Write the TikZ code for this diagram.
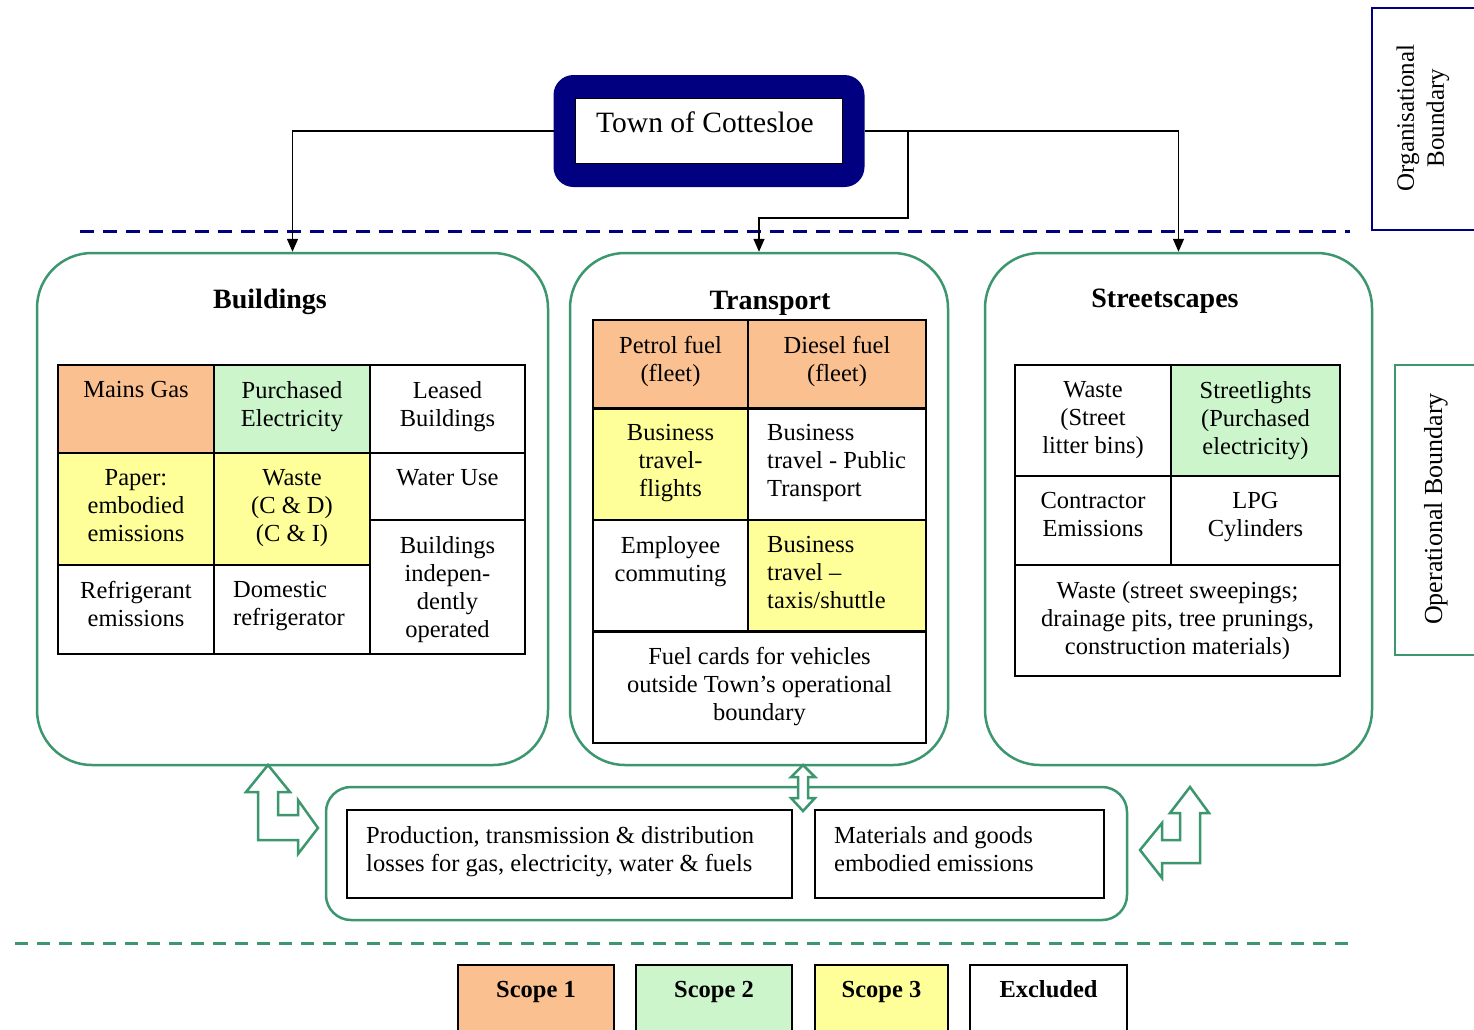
\documentclass[tikz,border=0pt]{standalone}
\usepackage{fontspec}
\setmainfont{Liberation Serif}
\usetikzlibrary{arrows.meta}
\definecolor{navyb}{RGB}{0,0,128}
\definecolor{grn}{RGB}{60,150,110}
\definecolor{sone}{RGB}{250,192,144}
\definecolor{stwo}{RGB}{204,245,204}
\definecolor{sthree}{RGB}{255,255,153}
\newcommand\cel[6]{\node[cell,fill=#6,minimum width={#4-#2},minimum height={#5-#3},anchor=north west] (#1) at (#2,#3) {};}
\newcommand\ctext[2]{\node[txt,align=center,anchor=north] (#1t) at ([yshift=-16pt]#1.north) {#2};}
\newcommand\ltext[2]{\node[txt,align=left,anchor=north west] (#1t) at ([xshift=19pt,yshift=-16pt]#1.north west) {#2};}
\begin{document}
\begin{tikzpicture}[x=1pt,y=-1pt,
  cell/.style={draw=black,line width=1.5pt,inner sep=0pt,outer sep=0pt},
  txt/.style={font=\fontsize{24.5}{28}\selectfont,inner sep=0pt},
  ttl/.style={font=\fontsize{28}{32}\selectfont\bfseries,inner sep=0pt,anchor=base},
  rbox/.style={draw=grn,line width=2.5pt,rounded corners=55pt,inner sep=0pt},
  conn/.style={draw=black,line width=1.5pt,-{Triangle[length=13pt,width=11pt]}},
  harrow/.style={draw=grn,line width=2.5pt,fill=white,line join=miter},
  lgbox/.style={draw=black,line width=1.5pt,inner sep=0pt,outer sep=0pt,anchor=north west,minimum height=100},
  lgtxt/.style={font=\fontsize{24.5}{28}\selectfont\bfseries,inner sep=0pt,anchor=base}]
\useasboundingbox (0,0) rectangle (1474,1029);
\fill[white] (0,0) rectangle (1474,1029);

% Town of Cottesloe
\node[fill=navyb,rounded corners=20pt,minimum width=311,minimum height=112,inner sep=0pt,outer sep=0pt] (town) at (709,131) {};
\node[draw=black,fill=white,line width=1pt,minimum width=267,minimum height=65,inner sep=0pt] (townin) at (708.5,130.5) {};
\node[font=\fontsize{29.5}{34}\selectfont,anchor=base,inner sep=0pt] (townt) at (705,132) {Town of Cottesloe};

% dashed lines
\coordinate (nd1) at (80,231);
\coordinate (nd2) at (1350,231);
\draw[navyb,line width=3pt,dash pattern=on 14pt off 9pt] (nd1) -- (nd2);
\coordinate (gd1) at (15,943);
\coordinate (gd2) at (1350,943);
\draw[grn,line width=3pt,dash pattern=on 13pt off 9pt] (gd1) -- (gd2);

% boundary labels
\draw[navyb,line width=2.5pt] (1480,8) -- (1372,8) -- (1372,230) -- (1480,230);
\node[rotate=90,font=\fontsize{25}{30}\selectfont,align=center,inner sep=0pt] (orgt) at (1423,118) {Organisational\\Boundary};
\draw[grn,line width=2.5pt] (1480,365) -- (1395,365) -- (1395,655) -- (1480,655);
\node[rotate=90,font=\fontsize{26}{30}\selectfont,inner sep=0pt] (opt) at (1436,509) {Operational Boundary};

% main rounded boxes
\node[rbox,minimum width=511,minimum height=512] (bld) at (292.5,509) {};
\node[rbox,minimum width=378,minimum height=512] (trn) at (759,509) {};
\node[rbox,minimum width=387,minimum height=512] (str) at (1178.5,509) {};
\node[ttl] (bldt) at (270,308) {Buildings};
\node[ttl] (trnt) at (770,309) {Transport};
\node[ttl] (strt) at (1165,307) {Streetscapes};

% connectors
\coordinate (j1) at (908,131);
\coordinate (j2) at (908,218);
\draw[conn] (town.west) -| (bld.north);
\draw[conn] (town.east) -| (str.north);
\draw[conn] (j1) -- (j2) -| (trn.north);

% Buildings table
\cel{b11}{58}{365}{214}{453}{sone}
\cel{b12}{214}{365}{370}{453}{stwo}
\cel{b13}{370}{365}{525}{453}{white}
\cel{b21}{58}{453}{214}{565}{sthree}
\cel{b22}{214}{453}{370}{565}{sthree}
\cel{b23}{370}{453}{525}{520}{white}
\cel{b31}{58}{565}{214}{654}{white}
\cel{b32}{214}{565}{370}{654}{white}
\cel{b33}{370}{520}{525}{654}{white}
\ctext{b11}{Mains Gas}
\ctext{b12}{Purchased\\Electricity}
\ctext{b13}{Leased\\Buildings}
\ctext{b21}{Paper:\\embodied\\emissions}
\ctext{b22}{Waste\\(C \& D)\\(C \& I)}
\ctext{b23}{Water Use}
\ctext{b31}{Refrigerant\\emissions}
\ltext{b32}{Domestic\\refrigerator}
\ctext{b33}{Buildings\\indepen-\\dently\\operated}

% Transport table
\cel{t11}{593}{320}{748}{408}{sone}
\cel{t12}{748}{320}{926}{408}{sone}
\cel{t21}{593}{408}{748}{520}{sthree}
\cel{t22}{748}{408}{926}{520}{white}
\cel{t31}{593}{520}{748}{631}{white}
\cel{t32}{748}{520}{926}{631}{sthree}
\cel{t41}{593}{631}{926}{743}{white}
\draw[line width=3pt] (t21.north west) -- (t22.north east);
\draw[line width=3pt] (t41.north west) -- (t41.north east);
\ctext{t11}{Petrol fuel\\(fleet)}
\ctext{t12}{Diesel fuel\\(fleet)}
\ctext{t21}{Business\\travel-\\flights}
\ltext{t22}{Business\\travel - Public\\Transport}
\ctext{t31}{Employee\\commuting}
\ltext{t32}{Business\\travel --\\taxis/shuttle}
\ctext{t41}{Fuel cards for vehicles\\outside Town’s operational\\boundary}

% Streetscapes table
\cel{s11}{1015}{365}{1171}{476}{white}
\cel{s12}{1171}{365}{1340}{476}{stwo}
\cel{s21}{1015}{476}{1171}{565}{white}
\cel{s22}{1171}{476}{1340}{565}{white}
\cel{s31}{1015}{565}{1340}{676}{white}
\ctext{s11}{Waste\\(Street\\litter bins)}
\ctext{s12}{Streetlights\\(Purchased\\electricity)}
\ctext{s21}{Contractor\\Emissions}
\ctext{s22}{LPG\\Cylinders}
\ctext{s31}{Waste (street sweepings;\\drainage pits, tree prunings,\\construction materials)}

% bottom group
\node[draw=grn,line width=2.5pt,rounded corners=25pt,minimum width=801,minimum height=133,inner sep=0pt] (up) at (726.5,853.5) {};
\node[cell,minimum width=445,minimum height=88] (prod) at (569.5,854) {};
\node[cell,minimum width=289,minimum height=88] (mat) at (959.5,854) {};
\ltext{prod}{Production, transmission \& distribution\\losses for gas, electricity, water \& fuels}
\ltext{mat}{Materials and goods\\embodied emissions}

% hollow arrows
\draw[harrow] (268,765) -- (290,792) -- (278,792) -- (278,815) -- (298,815) -- (298,800) -- (318,828) -- (298,854) -- (298,840) -- (258,840) -- (258,792) -- (246,792) -- cycle;
\draw[harrow] (1190,787) -- (1209,813) -- (1200,813) -- (1200,863) -- (1162,863) -- (1162,878) -- (1140,850) -- (1162,823) -- (1162,840) -- (1180,840) -- (1180,813) -- (1170,813) -- cycle;
\draw[harrow] (803,765) -- (815,777) -- (808,777) -- (808,798) -- (815,798) -- (803,811) -- (791,798) -- (798,798) -- (798,777) -- (791,777) -- cycle;

% legend
\node[lgbox,fill=sone,minimum width=156] (l1) at (458,965) {};
\node[lgbox,fill=stwo,minimum width=156] (l2) at (636,965) {};
\node[lgbox,fill=sthree,minimum width=133] (l3) at (815,965) {};
\node[lgbox,fill=white,minimum width=157] (l4) at (970,965) {};
\node[lgtxt] (l1t) at (536,997) {Scope 1};
\node[lgtxt] (l2t) at (714,997) {Scope 2};
\node[lgtxt] (l3t) at (881.5,997) {Scope 3};
\node[lgtxt] (l4t) at (1048.5,997) {Excluded};
\end{tikzpicture}
\end{document}
